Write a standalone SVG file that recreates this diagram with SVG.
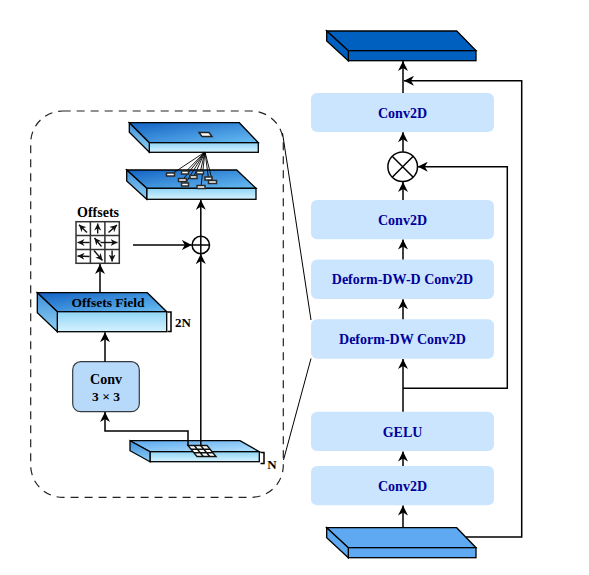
<svg xmlns="http://www.w3.org/2000/svg" width="589" height="575" viewBox="0 0 589 575">
<style>
.box{fill:#CCE5FF;stroke:none}
.lbl{font-family:"Liberation Serif",serif;font-weight:bold;font-size:14px;fill:#000099;text-anchor:middle}
.blk{font-family:"Liberation Serif",serif;font-weight:bold;fill:#000;text-anchor:middle}
.ln{fill:none;stroke:#000;stroke-width:1.5}
.arr{fill:none;stroke:#000;stroke-width:1.5;marker-end:url(#ah)}
.sl{stroke:#000;stroke-width:1.3}
.thin{fill:none;stroke:#000;stroke-width:1}
.sm{fill:none;stroke:#111;stroke-width:1.4;marker-end:url(#sa)}
</style>
<defs>
<marker id="ah" viewBox="0 0 10 10" refX="10" refY="5" markerWidth="10" markerHeight="10" markerUnits="userSpaceOnUse" orient="auto">
<path d="M0,0 L10,5 L0,10 L3,5 z" fill="#000"/>
</marker>
<marker id="sa" viewBox="0 0 10 10" refX="10" refY="5" markerWidth="7" markerHeight="7" markerUnits="userSpaceOnUse" orient="auto">
<path d="M0,0 L10,5 L0,10 L3,5 z" fill="#111"/>
</marker>
<linearGradient id="gTop" x1="0" y1="0" x2="1" y2="1">
<stop offset="0" stop-color="#1262C4"/>
<stop offset="1" stop-color="#68BDF2"/>
</linearGradient>
<linearGradient id="gFront" x1="0" y1="0" x2="0" y2="1">
<stop offset="0" stop-color="#8ED4F6"/>
<stop offset="1" stop-color="#D6F3FF"/>
</linearGradient>
<linearGradient id="gSide" x1="0" y1="0" x2="0" y2="1">
<stop offset="0" stop-color="#3F8FDA"/>
<stop offset="1" stop-color="#8ED0F4"/>
</linearGradient>
<linearGradient id="gTopL" x1="0" y1="0" x2="1" y2="1">
<stop offset="0" stop-color="#5AA8EE"/>
<stop offset="1" stop-color="#B5E2FC"/>
</linearGradient>
</defs>

<!-- Dashed panel -->
<g id="panel">
<rect x="30.7" y="111" width="252.6" height="386.3" rx="32" ry="32" fill="none" stroke="#222" stroke-width="1.2" stroke-dasharray="8,6"/>
<path class="thin" d="M282.5,133 L311,320"/>
<path class="thin" d="M311,358.5 L283.5,460"/>
</g>

<!-- Right column -->
<g id="out-slab">
<polygon points="326.7,31 456.7,31 476,50.7 348.3,50.7" fill="#0060C0" class="sl"/>
<rect x="348.3" y="50.7" width="127.7" height="10" fill="#0060C0" class="sl"/>
<polygon points="326.7,31 348.3,50.7 348.3,60.7 326.7,41" fill="#0060C0" class="sl"/>
</g>
<g id="conv2d-top"><rect class="box" x="311" y="93" width="183" height="39" rx="6"/><text class="lbl" x="402.5" y="117.5">Conv2D</text></g>
<g id="mul">
<circle cx="402.7" cy="166.7" r="14.8" fill="#fff" stroke="#000" stroke-width="1.5"/>
<path class="ln" d="M392.2,156.2 L413.2,177.2 M413.2,156.2 L392.2,177.2"/>
</g>
<g id="conv2d-mid"><rect class="box" x="311" y="200" width="183" height="39.3" rx="6"/><text class="lbl" x="402.5" y="224.5">Conv2D</text></g>
<g id="deform-dwd"><rect class="box" x="311" y="259.5" width="183" height="39.5" rx="6"/><text class="lbl" x="402.5" y="284">Deform-DW-D Conv2D</text></g>
<g id="deform-dw"><rect class="box" x="311" y="319.3" width="183" height="39.4" rx="6"/><text class="lbl" x="402.5" y="344">Deform-DW Conv2D</text></g>
<g id="gelu"><rect class="box" x="311" y="411.7" width="183" height="39.3" rx="6"/><text class="lbl" x="402.5" y="436.5">GELU</text></g>
<g id="conv2d-bot"><rect class="box" x="311" y="466" width="183" height="39.3" rx="6"/><text class="lbl" x="402.5" y="490.5">Conv2D</text></g>
<g id="in-slab">
<polygon points="326.7,527.7 456.7,527.7 476,547.7 348.3,547.7" fill="#5EA9F1" class="sl"/>
<rect x="348.3" y="547.7" width="127.7" height="10" fill="#5EA9F1" class="sl"/>
<polygon points="326.7,527.7 348.3,547.7 348.3,557.7 326.7,537.7" fill="#5EA9F1" class="sl"/>
</g>

<!-- Left panel nodes -->
<g id="slab-out">
<polygon points="129.3,122.7 239.3,122.7 258.3,142.7 149.3,142.7" fill="url(#gTop)" class="sl"/>
<rect x="149.3" y="142.7" width="109" height="9.6" fill="url(#gFront)" class="sl"/>
<polygon points="129.3,122.7 149.3,142.7 149.3,152.3 129.3,132.3" fill="url(#gSide)" class="sl"/>
<polygon points="199,132.5 209,132.5 212,136.5 202,136.5" fill="#fff" stroke="#222" stroke-width="1.4"/>
</g>
<g id="slab-deform">
<polygon points="126.7,170 236.7,170 256,188.3 146.7,188.3" fill="url(#gTop)" class="sl"/>
<rect x="146.7" y="188.3" width="109.3" height="11" fill="url(#gFront)" class="sl"/>
<polygon points="126.7,170 146.7,188.3 146.7,199.3 126.7,181" fill="url(#gSide)" class="sl"/>
<g stroke="#000" stroke-width="0.9">
<path d="M205,152 L171,174.5 M205,152 L185,172.5 M205,152 L193.5,177 M205,152 L200,172.5 M205,152 L208.5,178.5 M205,152 L212.5,181.5 M205,152 L182.5,180 M205,152 L185,184 M205,152 L201,186.5"/>
</g>
<g fill="#fff" stroke="#2a2a2a" stroke-width="1.5">
<rect x="166.5" y="173" width="8" height="3"/>
<rect x="181.5" y="171" width="7" height="3"/>
<rect x="190" y="175.5" width="7" height="3"/>
<rect x="196.5" y="171" width="7" height="3"/>
<rect x="205" y="177" width="7" height="3"/>
<rect x="208.5" y="180.5" width="8" height="3"/>
<rect x="178.5" y="178.5" width="8" height="3"/>
<rect x="181.5" y="183" width="7" height="3"/>
<rect x="197" y="185.5" width="8" height="3"/>
</g>
</g>
<g id="plus">
<circle cx="200.8" cy="245" r="8.7" fill="#fff" stroke="#000" stroke-width="1.5"/>
<path class="ln" d="M192.1,245 H209.5 M200.8,236.3 V253.7"/>
</g>
<g id="offsets">
<text class="blk" x="98" y="217" font-size="14">Offsets</text>
<rect x="76" y="221.7" width="43.3" height="41.6" fill="#fff" stroke="#333" stroke-width="1.5"/>
<path d="M90.4,221.7 V263.3 M104.9,221.7 V263.3 M76,235.6 H119.3 M76,249.4 H119.3" stroke="#333" stroke-width="1.5"/>
<path class="sm" d="M87,232.5 L79,224.8"/>
<path class="sm" d="M97.7,233.5 L97.7,223.5"/>
<path class="sm" d="M108.5,232.5 L117,225"/>
<path class="sm" d="M89.5,242.5 L77.5,242.5"/>
<path class="sm" d="M101.5,246.5 L94.5,238"/>
<path class="sm" d="M100.5,242.5 L117.5,242.5"/>
<path class="sm" d="M89.5,256.5 L77.5,256"/>
<path class="sm" d="M94,250.5 L102.5,260.5"/>
<path class="sm" d="M112.1,250.5 L112.1,261.5"/>
</g>
<g id="offsets-field">
<polygon points="37.3,292.7 147.3,292.7 166.7,311.7 57.3,311.7" fill="url(#gTop)" class="sl"/>
<rect x="57.3" y="311.7" width="109.4" height="20" fill="url(#gFront)" class="sl"/>
<polygon points="37.3,292.7 57.3,311.7 57.3,331.7 37.3,312.7" fill="url(#gSide)" class="sl"/>
<text class="blk" x="108" y="307" font-size="13.5">Offsets Field</text>
<path class="ln" d="M167.5,312 H171 V331.5 H167.5" stroke-width="1.3"/>
<text class="blk" x="183" y="326.5" font-size="13">2N</text>
</g>
<g id="conv33">
<rect x="72.7" y="361.7" width="66.6" height="50" rx="8" fill="#B8DAFA" stroke="#36393D" stroke-width="1.2"/>
<text class="blk" x="106" y="384" font-size="14">Conv</text>
<text class="blk" x="106" y="400.5" font-size="13.5">3 × 3</text>
</g>
<g id="slab-in">
<polygon points="130,440.7 240,440.7 259.3,451.7 150,451.7" fill="url(#gTopL)" class="sl"/>
<rect x="150" y="451.7" width="109.3" height="10" fill="url(#gFront)" class="sl"/>
<polygon points="130,440.7 150,451.7 150,461.7 130,450.7" fill="url(#gSide)" class="sl"/>
<polygon points="188,445.5 207,445.5 216,456.5 197,456.5" fill="#fff" stroke="#111" stroke-width="1.4"/>
<path d="M194.3,445.5 L203.3,456.5 M200.7,445.5 L209.7,456.5 M191,449.2 H210 M194,452.8 H213" stroke="#111" stroke-width="1.4"/>
<path class="ln" d="M260.5,452.5 H264 V463.5 H260.5" stroke-width="1.3"/>
<text class="blk" x="272" y="468.5" font-size="13">N</text>
</g>

<!-- Connectors -->
<g id="connectors">
<path class="arr" d="M403,528 V505.5"/>
<path class="arr" d="M403,466 V451.5"/>
<path class="arr" d="M403,411.7 V359"/>
<path class="arr" d="M403,388.3 H507.3 V166.7 H417.8"/>
<path class="arr" d="M403,319.3 V299.3"/>
<path class="arr" d="M403,259.5 V239.5"/>
<path class="arr" d="M403,200 V182"/>
<path class="arr" d="M403,151.8 V132.2"/>
<path class="arr" d="M403,93 V61"/>
<path class="arr" d="M466,537 H521.7 V80.7 H404"/>
<path class="arr" d="M133,245 H191.8"/>
<path class="arr" d="M200.8,446 V254"/>
<path class="arr" d="M200.8,236.3 V199.8"/>
<path class="arr" d="M100,293 V264"/>
<path class="arr" d="M105,361.7 V332.2"/>
<path class="arr" d="M188,446 V431 H105 V412"/>
</g>
</svg>
